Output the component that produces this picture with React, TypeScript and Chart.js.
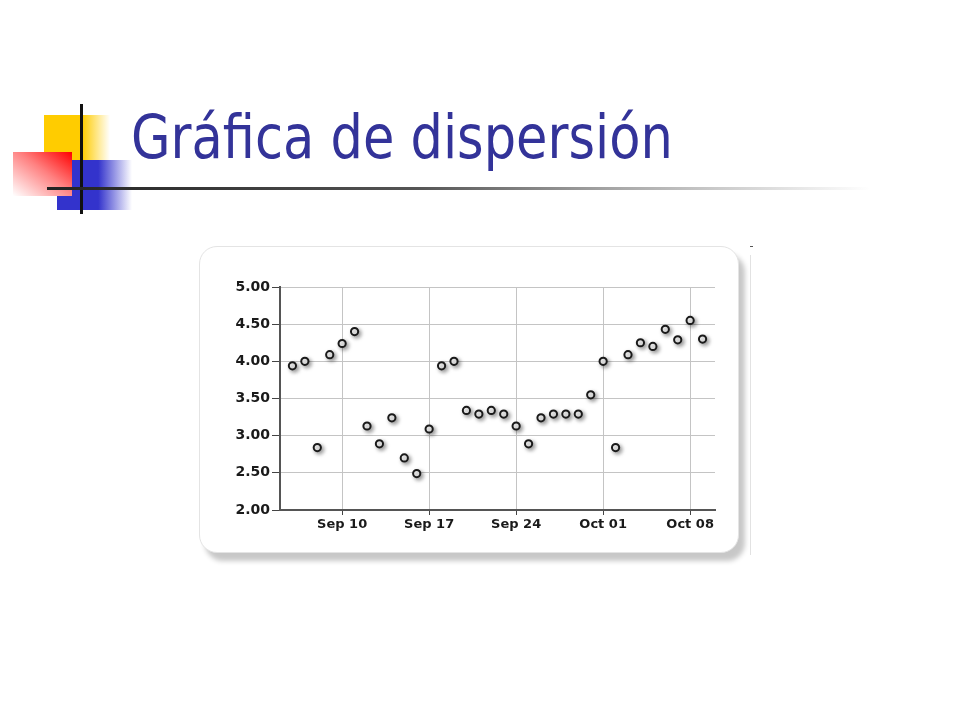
import { useEffect, useRef } from "react";
import { Chart, registerables } from "chart.js";

Chart.register(...registerables);

// one reading per day, Sep 06 .. Oct 09
const days = [
  "Sep 06", "Sep 07", "Sep 08", "Sep 09", "Sep 10", "Sep 11", "Sep 12",
  "Sep 13", "Sep 14", "Sep 15", "Sep 16", "Sep 17", "Sep 18", "Sep 19",
  "Sep 20", "Sep 21", "Sep 22", "Sep 23", "Sep 24", "Sep 25", "Sep 26",
  "Sep 27", "Sep 28", "Sep 29", "Sep 30", "Oct 01", "Oct 02", "Oct 03",
  "Oct 04", "Oct 05", "Oct 06", "Oct 07", "Oct 08", "Oct 09",
];
const values = [
  3.94, 4.0, 2.84, 4.09, 4.24, 4.4, 3.13,
  2.89, 3.24, 2.7, 2.49, 3.09, 3.94, 4.0,
  3.34, 3.29, 3.34, 3.29, 3.13, 2.89, 3.24,
  3.29, 3.29, 3.29, 3.55, 4.0, 2.84, 4.09,
  4.25, 4.2, 4.43, 4.29, 4.55, 4.3,
];
const tickLabels = ["Sep 10", "Sep 17", "Sep 24", "Oct 01", "Oct 08"];
const axisStart = "Sep 05";
const axisEnd = "Oct 10";
const yTicks = [2.0, 2.5, 3.0, 3.5, 4.0, 4.5, 5.0];

const monthStart: Record<string, number> = { Sep: 0, Oct: 30 };
const dayNum = (s: string) => {
  const [m, d] = s.split(" ");
  return monthStart[m] + parseInt(d, 10) - parseInt(axisStart.split(" ")[1], 10);
};

const shadowPlugin = {
  id: "pointShadow",
  beforeDatasetsDraw(chart: any) {
    const ctx = chart.ctx;
    ctx.save();
    ctx.shadowColor = "rgba(0,0,0,0.4)";
    ctx.shadowBlur = 4;
    ctx.shadowOffsetX = 2;
    ctx.shadowOffsetY = 2;
  },
  afterDatasetsDraw(chart: any) {
    chart.ctx.restore();
  },
};

const ScatterChart = () => {
  const canvasRef = useRef<HTMLCanvasElement>(null);

  useEffect(() => {
    const ctx = canvasRef.current!.getContext("2d")!;
    const tickFont = { family: "'DejaVu Sans', Verdana, sans-serif", weight: "bold" as const };

    const chart = new Chart(ctx, {
      type: "scatter",
      data: {
        datasets: [
          {
            label: "Valor",
            data: days.map((d, i) => ({ x: dayNum(d), y: values[i] })),
            pointRadius: 3.6,
            pointBorderWidth: 2,
            pointBorderColor: "#1a1a1a",
            pointBackgroundColor: "#ffffff",
          },
        ],
      },
      options: {
        animation: false,
        responsive: false,
        devicePixelRatio: 1,
        layout: { padding: { top: 32, right: 20, left: 0, bottom: 0 } },
        plugins: { legend: { display: false }, tooltip: { enabled: false } },
        scales: {
          x: {
            type: "linear",
            min: dayNum(axisStart),
            max: dayNum(axisEnd),
            afterBuildTicks: (scale: any) => {
              scale.ticks = tickLabels.map((t) => ({ value: dayNum(t) }));
            },
            afterFit: (scale: any) => {
              scale.height = 40;
            },
            ticks: {
              autoSkip: false,
              maxRotation: 0,
              padding: 2,
              color: "#1a1a1a",
              font: { ...tickFont, size: 13 },
              callback: (v: any) => tickLabels.find((t) => dayNum(t) === v) ?? "",
            },
            grid: { color: "#c4c4c4", lineWidth: 1, tickLength: 5, tickColor: "#444" },
            border: { color: "#555", width: 2 },
          },
          y: {
            min: yTicks[0],
            max: yTicks[yTicks.length - 1],
            afterBuildTicks: (scale: any) => {
              scale.ticks = yTicks.map((v) => ({ value: v }));
            },
            afterFit: (scale: any) => {
              scale.width = 80;
            },
            ticks: {
              padding: 2,
              color: "#1a1a1a",
              font: { ...tickFont, size: 14 },
              callback: (v: any) => Number(v).toFixed(2),
            },
            grid: { color: "#c4c4c4", lineWidth: 1, tickLength: 8, tickColor: "#444" },
            border: { color: "#555", width: 2 },
          },
        },
      },
      plugins: [shadowPlugin],
    });

    return () => {
      chart.destroy();
    };
  }, []);

  return (
    <canvas
      ref={canvasRef}
      width={535}
      height={295}
      style={{ position: "absolute", left: 200, top: 255, width: 535, height: 295 }}
    />
  );
};

const abs = (s: React.CSSProperties): React.CSSProperties => ({ position: "absolute", ...s });

export default function App() {
  return (
    <div style={abs({ left: 0, top: 0, width: 960, height: 720, background: "#fff", overflow: "hidden" })}>
      {/* slide decoration */}
      <div style={abs({ left: 44, top: 115, width: 66, height: 45, background: "linear-gradient(to right, #ffcc00 0%, #ffcc00 58%, rgba(255,204,0,0) 100%)" })} />
      <div style={abs({ left: 57, top: 160, width: 75, height: 50, background: "linear-gradient(to right, #3333cc 0%, #3333cc 55%, rgba(51,51,204,0) 100%)" })} />
      <div style={abs({ left: 13, top: 152, width: 59, height: 44, background: "linear-gradient(to bottom left, #ff0000 0%, #ff8080 45%, #ffffff 100%)" })} />
      <div style={abs({ left: 80, top: 104, width: 2.5, height: 110, background: "#111" })} />
      <div style={abs({ left: 47, top: 187, width: 823, height: 3, background: "linear-gradient(to right, #222 0%, #555 45%, #aaa 70%, rgba(220,220,220,0) 100%)" })} />
      <div
        style={abs({
          left: 131,
          top: 106,
          fontFamily: "'DejaVu Sans Condensed', 'DejaVu Sans', sans-serif",
          fontStretch: "condensed",
          fontSize: 61,
          lineHeight: "61px",
          color: "#333399",
          whiteSpace: "nowrap",
          transformOrigin: "left top",
          transform: "scaleX(0.93)",
        })}
      >
        Gráfica de dispersión
      </div>

      {/* chart panel */}
      <div style={abs({ left: 750, top: 246, width: 3, height: 1, background: "#555" })} />
      <div style={abs({ left: 750, top: 255, width: 1, height: 300, background: "#e2e2e2" })} />
      <div
        style={abs({
          left: 199,
          top: 246,
          width: 538,
          height: 305,
          background: "#fff",
          borderRadius: 18,
          border: "1px solid #e4e4e4",
          boxShadow: "6px 8px 5px rgba(0,0,0,0.22)",
        })}
      />
      <ScatterChart />
    </div>
  );
}
